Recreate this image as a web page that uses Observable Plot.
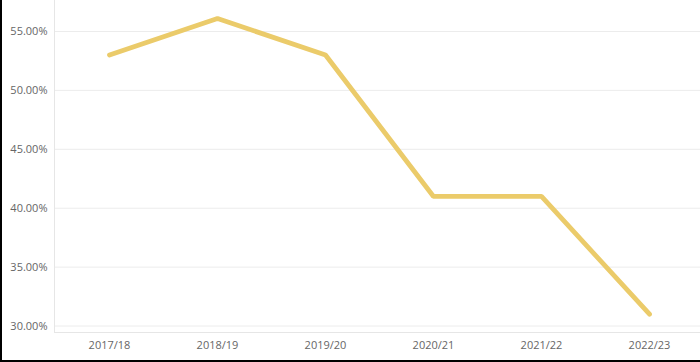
<!DOCTYPE html>
<html>
<head>
<meta charset="utf-8">
<script src="https://cdn.jsdelivr.net/npm/d3@7"></script>
<script src="https://cdn.jsdelivr.net/npm/@observablehq/plot@0.6"></script>
<style>
  html, body { margin: 0; padding: 0; background: #fff; }
  #wrap { width: 700px; height: 362px; box-sizing: border-box; border-left: 2px solid #000; border-bottom: 2px solid #000; overflow: hidden; position: relative; }
  #chart { position: absolute; left: -2px; top: 0; }
</style>
</head>
<body>
<div id="wrap"><div id="chart"></div></div>
<script>
const years = ["2017/18", "2018/19", "2019/20", "2020/21", "2021/22", "2022/23"];
const shares = [0.530, 0.561, 0.530, 0.410, 0.410, 0.310];
const yTicks = [0.30, 0.35, 0.40, 0.45, 0.50, 0.55];

const data = years.map((y, i) => ({year: y, share: shares[i]}));

const chart = Plot.plot({
  width: 700,
  height: 360,
  marginLeft: 54,
  marginRight: 0,
  marginTop: 0,
  marginBottom: 28,
  style: {fontFamily: "'Open Sans', sans-serif", fontSize: "11px", color: "#666", background: "#fff"},
  x: {type: "point", domain: years, range: [54, 704], label: null},
  y: {domain: [0.2945, 0.5763], range: [332, 0], label: null},
  marks: [
    Plot.gridY(yTicks, {stroke: "#ececec", strokeOpacity: 1}),
    Plot.frame({anchor: "left", stroke: "#e6e6e6"}),
    Plot.frame({anchor: "bottom", stroke: "#e6e6e6"}),
    Plot.axisY(yTicks, {tickSize: 0, tickPadding: 7, tickFormat: d3.format(".2%"), fill: "#666", label: null}),
    Plot.axisX({tickSize: 0, tickPadding: 9, fill: "#666", label: null}),
    Plot.line(data, {x: "year", y: "share", stroke: "#EBCB6A", strokeWidth: 4.8, strokeLinejoin: "miter", strokeLinecap: "round"})
  ]
});
document.getElementById("chart").appendChild(chart);
</script>
</body>
</html>
